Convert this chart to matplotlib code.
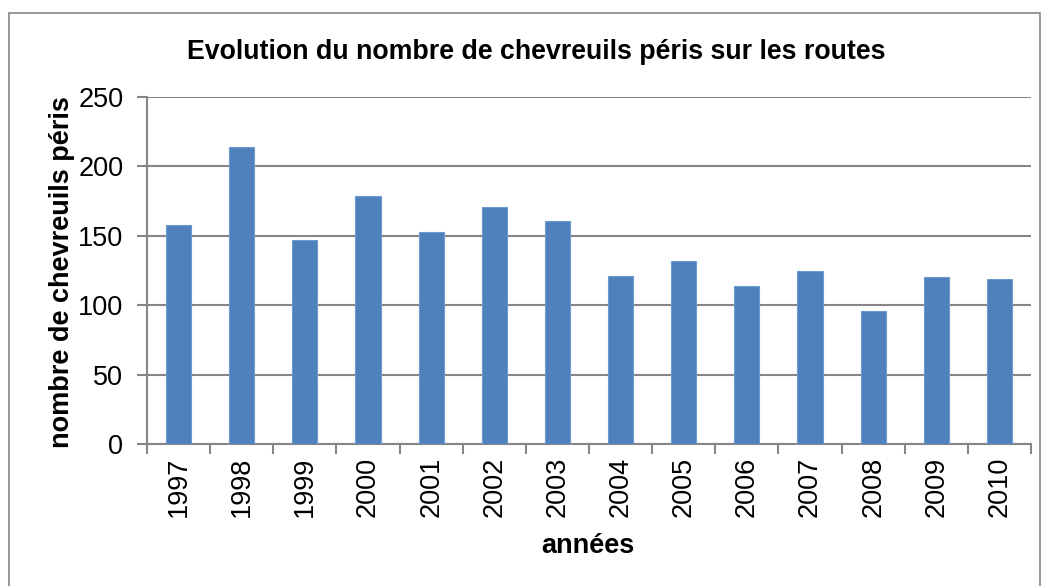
import matplotlib.pyplot as plt
import matplotlib.patches as patches
import numpy as np

plt.rcParams['font.family'] = ['Liberation Sans', 'DejaVu Sans']

# data
annees = ['1997', '1998', '1999', '2000', '2001', '2002', '2003',
          '2004', '2005', '2006', '2007', '2008', '2009', '2010']
chevreuils = [158, 214, 147, 179, 153, 171, 161, 121, 132, 114, 125, 96, 120, 119]

W, H = 1045, 586
fig = plt.figure(figsize=(W / 100, H / 100), dpi=100)

# outer chart border (runs off the bottom of the picture)
fig.patches.append(patches.Rectangle((9 / W, -0.05), (1040 - 9) / W, 1.05 - 13 / H,
                                     transform=fig.transFigure, fill=False,
                                     edgecolor='#868686', linewidth=1.2))

left, right, top, bottom = 147, 1031, 97, 444
ax = fig.add_axes([left / W, 1 - bottom / H, (right - left) / W, (bottom - top) / H])

grey = '#868686'
x = np.arange(len(annees))
ax.bar(x, chevreuils, width=0.4, color='#4f81bd', edgecolor='#6d9bd0',
       linewidth=0.8, zorder=3)

ax.set_xlim(-0.5, len(annees) - 0.5)
ax.set_ylim(0, 250)
ax.set_yticks([0, 50, 100, 150, 200, 250])
ax.yaxis.grid(True, color=grey, linewidth=1.5, zorder=0)

# x ticks sit between categories, labels at the centres
ax.set_xticks(np.arange(-0.5, len(annees)), minor=False)
ax.set_xticklabels([])
ax.set_xticks(x, minor=True)
ax.set_xticklabels(annees, minor=True, rotation=90, fontsize=19.5)
ax.tick_params(axis='x', which='major', length=7, width=1.5, color=grey, direction='out')
ax.tick_params(axis='x', which='minor', length=0, pad=9)
ax.tick_params(axis='y', length=7, width=1.5, color=grey, labelsize=19.5, pad=10)

for s in ['top', 'right']:
    ax.spines[s].set_visible(False)
for s in ['left', 'bottom']:
    ax.spines[s].set_color(grey)
    ax.spines[s].set_linewidth(1.5)

fig.text(536 / W, 1 - 52 / H, 'Evolution du nombre de chevreuils péris sur les routes',
         ha='center', va='center', fontsize=19.3, fontweight='bold')
fig.text(588 / W, 1 - 546 / H, 'années', ha='center', va='center',
         fontsize=19.5, fontweight='bold')
fig.text(62 / W, 1 - 272 / H, 'nombre de chevreuils péris', ha='center', va='center',
         rotation=90, fontsize=19.5, fontweight='bold')

fig.savefig('out.png', dpi=100)
